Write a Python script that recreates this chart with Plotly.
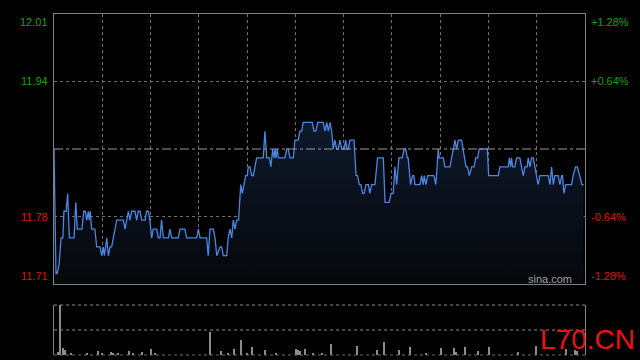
import plotly.graph_objects as go

# ---------------- data ----------------
prev_close = 11.86

minutes = [0, 0.9, 1.4, 2.3, 3.2, 4.0, 4.5, 5.5, 6.2, 7.0, 9.1, 9.9, 10.6, 12.7, 13.5, 14.2, 14.9,
           15.6, 16.0, 16.5, 17.1, 18.6, 19.4, 20.9, 21.7, 22.4, 22.9, 24.0, 24.7, 25.5, 26.2,
           28.5, 31.5, 32.3, 33.8, 34.5, 35.3, 36.8, 37.6, 38.3, 39.1, 39.9, 41.4, 42.1, 42.9,
           43.6, 44.4, 45.1, 46.7, 47.4, 48.2, 48.9, 49.7, 52.0, 52.7, 53.5, 56.5, 57.3, 59.5,
           60.3, 64.9, 65.6, 66.4, 69.4, 70.1, 70.9, 72.4, 73.2, 74.0, 75.5, 76.2, 77.0, 78.5,
           79.2, 80.0, 80.8, 81.5, 82.3, 83.0, 83.9, 84.9,
           85.6, 86.4, 87.1, 87.9, 88.3, 89.1, 89.9, 90.6, 92.1, 95.1, 95.9, 96.7, 97.9, 98.6,
           99.4, 100.0, 100.5, 100.9, 101.5, 102.0, 105.0, 105.8, 106.5, 107.3, 108.8, 109.5,
           111.0, 111.8, 112.6, 113.3, 117.4, 118.2, 119.0, 119.9, 122.4, 123.2, 124.0, 124.7,
           125.5, 126.2, 127.0, 127.7, 128.5, 129.2, 130.0, 130.8, 131.9, 132.6, 133.2, 133.8,
           134.5, 136.4, 137.3, 138.0, 138.8, 139.5, 140.3, 141.0, 141.8, 142.9, 143.6, 144.4,
           145.9, 147.1, 149.7, 150.5, 152.4, 153.2, 154.2, 155.0, 155.8, 156.8, 158.3, 159.2,
           159.9, 160.6, 161.0, 162.1, 163.0, 163.6, 164.1,
           166.4, 167.1, 167.9, 168.3, 169.1, 169.9, 172.7, 173.6, 174.7, 175.1, 177.0, 177.7,
           180.0, 181.5, 182.3, 183.0, 183.8, 185.3, 186.0, 187.3, 188.0, 188.8, 189.9, 191.0,
           191.7, 192.6, 193.3, 197.0, 197.6, 202.0, 202.7, 206.5, 207.0, 207.6, 208.0, 208.5,
           209.5, 210.3, 211.8, 212.6, 213.3, 214.1, 215.1, 215.6, 216.4, 217.1, 217.9, 218.6,
           219.4, 220.1, 220.9, 224.7, 225.5, 226.2, 227.0, 227.7, 229.2, 230.0, 230.8, 231.2,
           231.8, 232.7, 235.3, 236.0, 237.1, 237.9, 239.0, 240.0, 240.8]

prices = [11.86, 11.72, 11.72, 11.73, 11.76, 11.76, 11.79, 11.79, 11.81, 11.76, 11.76, 11.80,
          11.77, 11.77, 11.79, 11.79, 11.78, 11.79, 11.78, 11.79, 11.77, 11.77, 11.75, 11.75,
          11.74, 11.75, 11.74, 11.76, 11.74, 11.75, 11.75, 11.78, 11.78, 11.77, 11.79, 11.78,
          11.79, 11.79, 11.78, 11.79, 11.79, 11.78, 11.78, 11.79, 11.79, 11.78, 11.76, 11.77,
          11.77, 11.76, 11.76, 11.78, 11.76, 11.76, 11.77, 11.76, 11.76, 11.77, 11.77, 11.76,
          11.76, 11.77, 11.76, 11.76, 11.74, 11.77, 11.77, 11.76, 11.74, 11.75, 11.75, 11.74,
          11.74, 11.76, 11.77, 11.76, 11.78, 11.77, 11.78, 11.78, 11.82,
          11.81, 11.82, 11.83, 11.83, 11.84, 11.84, 11.83, 11.83, 11.85, 11.85, 11.88, 11.85,
          11.85, 11.84, 11.86, 11.85, 11.86, 11.85, 11.86, 11.85, 11.85, 11.86, 11.86, 11.85,
          11.85, 11.87, 11.87, 11.88, 11.88, 11.89, 11.89, 11.88, 11.88, 11.89, 11.89, 11.88,
          11.89, 11.88, 11.89, 11.88, 11.86, 11.87, 11.86, 11.86, 11.87, 11.86, 11.86, 11.87,
          11.86, 11.86, 11.87, 11.87, 11.83, 11.83, 11.82, 11.82, 11.81, 11.81, 11.82, 11.82,
          11.81, 11.82, 11.82, 11.85, 11.85, 11.80, 11.80, 11.81, 11.81, 11.84, 11.82, 11.85,
          11.85, 11.86, 11.86, 11.85, 11.85, 11.82, 11.83, 11.83, 11.82,
          11.82, 11.83, 11.82, 11.83, 11.82, 11.83, 11.83, 11.82, 11.86, 11.85, 11.85, 11.84,
          11.84, 11.86, 11.87, 11.86, 11.87, 11.87, 11.86, 11.84, 11.84, 11.83, 11.84, 11.84,
          11.85, 11.85, 11.86, 11.86, 11.83, 11.83, 11.84, 11.84, 11.85, 11.84, 11.85, 11.84,
          11.84, 11.85, 11.85, 11.84, 11.83, 11.84, 11.84, 11.85, 11.84, 11.85, 11.85, 11.84,
          11.83, 11.82, 11.83, 11.83, 11.82, 11.84, 11.82, 11.83, 11.83, 11.82, 11.83, 11.83,
          11.81, 11.82, 11.82, 11.83, 11.84, 11.84, 11.83, 11.82, 11.82]

vol_minutes = [2, 3, 4, 5, 8, 15, 20, 22, 26, 27, 29, 34, 36, 40, 44, 46, 71, 76, 79, 82, 85,
               88, 90, 96, 101, 110, 111, 112, 114, 118, 122, 126, 138, 147, 150, 157, 162,
               169, 176, 182, 183, 187, 193, 198, 211, 219, 233, 237, 238]
vol_values = [10, 150, 20, 15, 5, 7, 13, 7, 10, 7, 7, 13, 7, 10, 19, 5, 70, 13, 7, 19, 45,
              5, 25, 15, 7, 19, 15, 12, 19, 5, 5, 33, 27, 15, 39, 15, 23,
              7, 20, 20, 10, 25, 13, 25, 10, 27, 17, 15, 13]

pct_levels = [0.0128, 0.0064, -0.0064, -0.0128]
left_labels = ["12.01", "11.94", "11.78", "11.71"]
right_labels = ["+1.28%", "+0.64%", "-0.64%", "-1.28%"]

# ---------------- styling ----------------
W, H = 640, 360
x0_px, x1_px = 54, 585
main_top, main_bot = 14, 284
vol_top, vol_bot = 305, 355
FONT = "Liberation Sans, Arial, sans-serif"
GREEN = "#14a014"
RED = "#e01010"
FRAME = "#808080"
GRID = "#6e6e6e"
n_minutes = 241.4

y_hi = prev_close * (1 + pct_levels[0])
y_lo = prev_close * (1 + pct_levels[-1])

xdom = [x0_px / W, x1_px / W]
ydom_main = [1 - main_bot / H, 1 - main_top / H]
ydom_vol = [1 - vol_bot / H, 1 - vol_top / H]
vmax = max(vol_values)

fig = go.Figure()
fig.add_trace(go.Scatter(
    x=minutes, y=prices, mode="lines",
    line=dict(color="#4a86e6", width=1.3),
    fill="tozeroy",
    fillgradient=dict(type="vertical",
                      colorscale=[[0, "#05070b"], [1, "#0e192b"]],
                      start=y_lo, stop=max(prices)),
    xaxis="x", yaxis="y", hoverinfo="skip"))
fig.add_trace(go.Bar(
    x=vol_minutes, y=vol_values, width=0.55,
    marker=dict(color="#8c8c8c", line=dict(width=0)),
    xaxis="x2", yaxis="y2", hoverinfo="skip"))

grid_step = n_minutes / 11
fig.update_layout(
    width=W, height=H,
    margin=dict(l=0, r=0, t=0, b=0, pad=0),
    paper_bgcolor="black", plot_bgcolor="black",
    showlegend=False, bargap=0,
    font=dict(family=FONT, size=11),
    xaxis=dict(domain=xdom, range=[0, n_minutes], anchor="y",
               tickvals=[grid_step * k for k in range(1, 11)],
               showticklabels=False, ticks="", showgrid=True,
               gridcolor=GRID, griddash="dot", gridwidth=1,
               showline=True, mirror=True, linecolor=FRAME, linewidth=1,
               zeroline=False, fixedrange=True),
    yaxis=dict(domain=ydom_main, range=[y_lo, y_hi], anchor="x",
               tickvals=[prev_close * (1 + p) for p in pct_levels[1:3]],
               showticklabels=False, ticks="", showgrid=True,
               gridcolor=GRID, griddash="dot", gridwidth=1,
               showline=True, mirror=True, linecolor=FRAME, linewidth=1,
               zeroline=False, fixedrange=True),
    xaxis2=dict(domain=xdom, range=[0, n_minutes], anchor="y2",
                showticklabels=False, ticks="", showgrid=False,
                showline=False, zeroline=False, fixedrange=True),
    yaxis2=dict(domain=ydom_vol, range=[0, vmax], anchor="x2",
                showticklabels=False, ticks="", showgrid=False,
                showline=True, mirror=True, linecolor=FRAME, linewidth=1,
                zeroline=False, fixedrange=True),
)

shapes = []
# previous close reference line
shapes.append(dict(type="line", xref="x domain", yref="y", x0=0, x1=1,
                   y0=prev_close, y1=prev_close,
                   line=dict(color="#9a9a9a", width=1, dash="dashdot")))
# volume pane dotted lines (top, middle, bottom)
for frac in (1.0, 0.5):
    shapes.append(dict(type="line", xref="x2 domain", yref="y2 domain", x0=0, x1=1,
                       y0=frac, y1=frac, line=dict(color="#8a8a8a", width=1, dash="dot")))
shapes.append(dict(type="line", xref="x2 domain", yref="y2 domain", x0=0, x1=1,
                   y0=0, y1=0, line=dict(color="#6a6a6a", width=1, dash="dot")))
fig.update_layout(shapes=shapes)

ann = []
for p, lt, rt in zip(pct_levels, left_labels, right_labels):
    yv = prev_close * (1 + p)
    if p == pct_levels[0]:
        ya = "top"
    elif p == pct_levels[-1]:
        ya = "bottom"
    else:
        ya = "middle"
    col = GREEN if p > 0 else RED
    ann.append(dict(text=lt, xref="paper", yref="y", x=50 / W, y=yv,
                    xanchor="right", yanchor=ya, showarrow=False,
                    font=dict(color=col, size=11, family=FONT)))
    ann.append(dict(text=rt, xref="paper", yref="y", x=589 / W, y=yv,
                    xanchor="left", yanchor=ya, showarrow=False,
                    font=dict(color=col, size=11, family=FONT)))
ann.append(dict(text="sina.com", xref="paper", yref="paper", x=574 / W, y=1 - 279 / H,
                xanchor="right", yanchor="middle", showarrow=False,
                font=dict(color="#a0a0a0", size=11, family=FONT)))
ann.append(dict(text="L70.CN", xref="paper", yref="paper", x=637 / W, y=1 - 339 / H,
                xanchor="right", yanchor="middle", showarrow=False,
                font=dict(color="#ee1111", size=28, family=FONT)))
fig.update_layout(annotations=ann)

fig.write_html("out.html", config=dict(displayModeBar=False),
               post_script="document.body.style.margin='0';document.body.style.background='black';document.body.style.overflow='hidden';")
